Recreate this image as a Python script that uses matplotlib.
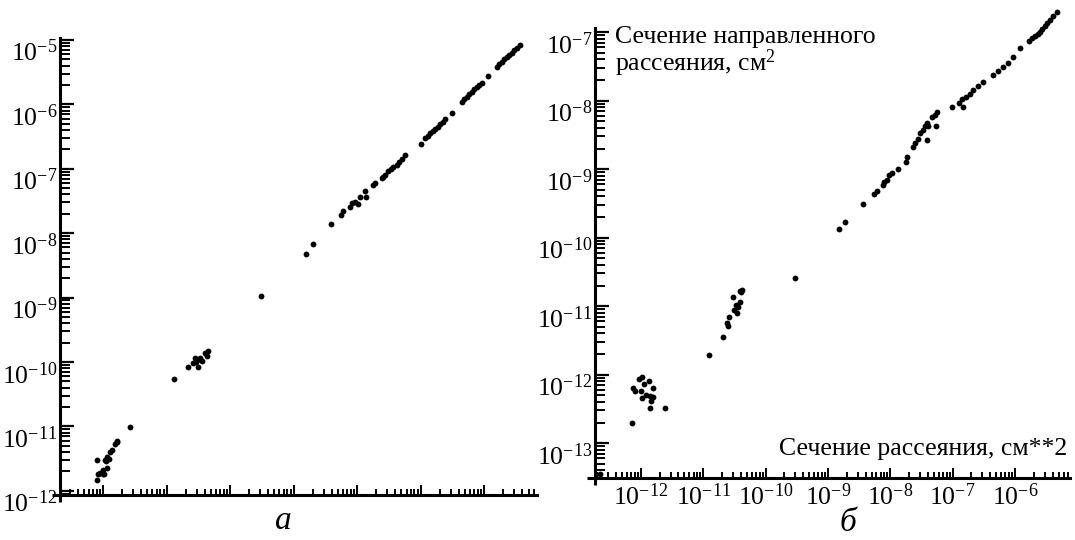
import numpy as np
import matplotlib
matplotlib.use("Agg")
import matplotlib.pyplot as plt
from matplotlib.ticker import LogLocator, FuncFormatter, NullFormatter

plt.rcParams['font.family'] = ['Liberation Serif', 'DejaVu Serif']
plt.rcParams['mathtext.fontset'] = 'custom'
plt.rcParams['mathtext.rm'] = 'Liberation Serif'
plt.rcParams['mathtext.it'] = 'Liberation Serif:italic'

# -------------------------
# data, panel "а"
# -------------------------
a_x = [7.96e-13, 8.44e-13, 8.97e-13, 1.0e-12, 1.05e-12, 1.01e-12, 1.14e-12, 7.96e-13,
       1.07e-12, 1.10e-12, 1.24e-12, 1.14e-12, 1.29e-12, 1.37e-12, 1.55e-12, 1.64e-12,
       1.68e-12, 2.7e-12,
       1.33e-11, 2.18e-11, 2.61e-11, 2.92e-11, 3.13e-11, 2.8e-11, 3.37e-11, 3.62e-11,
       4.04e-11, 4.34e-11, 4.5e-11, 3.0e-11,
       3.08e-10,
       1.57e-9, 2.0e-9, 3.85e-9, 5.5e-9, 6.1e-9, 7.8e-9, 8.2e-9, 9.3e-9, 1.05e-8, 1.11e-8,
       1.39e-8, 1.34e-8, 1.77e-8, 1.92e-8, 2.44e-8, 2.6e-8, 2.76e-8, 3.11e-8, 3.4e-8,
       3.73e-8, 4.22e-8, 4.6e-8, 5.06e-8, 5.7e-8,
       1.0e-7, 1.18e-7, 1.3e-7, 1.41e-7, 1.55e-7, 1.69e-7, 1.85e-7, 2.03e-7, 2.22e-7,
       2.43e-7, 3.1e-7, 4.45e-7, 4.85e-7, 5.33e-7, 5.85e-7, 6.4e-7, 7.0e-7, 7.67e-7,
       8.4e-7, 9.2e-7, 1.17e-6, 1.58e-6, 1.74e-6, 1.9e-6, 2.08e-6, 2.28e-6, 2.5e-6,
       2.73e-6, 3.0e-6, 3.27e-6, 3.69e-6]
a_y = [1.47e-12, 1.80e-12, 1.87e-12, 1.85e-12, 1.80e-12, 2.10e-12, 2.24e-12, 3.0e-12,
       3.0e-12, 2.9e-12, 3.08e-12, 3.39e-12, 3.96e-12, 4.3e-12, 5.33e-12, 5.66e-12,
       6.0e-12, 9.9e-12,
       5.45e-11, 8.4e-11, 9.6e-11, 1.0e-10, 8.4e-11, 1.15e-10, 1.15e-10, 1.03e-10,
       1.38e-10, 1.23e-10, 1.48e-10, 1.08e-10,
       1.06e-9,
       4.75e-9, 6.7e-9, 1.39e-8, 1.92e-8, 2.23e-8, 2.58e-8, 2.91e-8, 3.09e-8, 2.84e-8, 3.69e-8,
       3.6e-8, 4.57e-8, 5.6e-8, 6.1e-8, 7.1e-8, 7.5e-8, 8.0e-8, 9.35e-8, 1.0e-7,
       1.08e-7, 1.15e-7, 1.28e-7, 1.41e-7, 1.64e-7,
       2.43e-7, 2.97e-7, 3.25e-7, 3.56e-7, 3.85e-7, 4.15e-7, 4.5e-7, 4.9e-7, 5.4e-7,
       5.9e-7, 7.3e-7, 1.1e-6, 1.2e-6, 1.32e-6, 1.44e-6, 1.57e-6, 1.7e-6, 1.84e-6,
       2.0e-6, 2.17e-6, 2.8e-6, 3.85e-6, 4.2e-6, 4.6e-6, 5.0e-6, 5.4e-6, 5.85e-6,
       6.35e-6, 6.9e-6, 7.43e-6, 8.36e-6]

# -------------------------
# data, panel "б"
# -------------------------
b_x = [2.23e-13,
       7.2e-13, 7.36e-13, 8.0e-13, 9.4e-13, 1.06e-12, 1.13e-12, 1.34e-12, 1.0e-12,
       1.54e-12, 1.2e-12, 1.03e-12, 1.41e-12, 1.57e-12, 1.44e-12, 1.39e-12, 2.48e-12,
       1.22e-11, 2.07e-11, 2.44e-11, 2.5e-11, 2.59e-11, 3.0e-11, 3.11e-11, 3.31e-11,
       3.52e-11, 3.6e-11, 3.88e-11, 3.98e-11, 4.24e-11, 3.86e-11,
       2.94e-10,
       1.53e-9, 1.91e-9, 3.66e-9, 5.4e-9, 6.1e-9, 7.5e-9, 8.0e-9, 9.4e-9, 1.06e-8,
       8.85e-9, 1.31e-8, 1.8e-8, 1.85e-8, 2.31e-8, 2.51e-8, 2.74e-8, 3.02e-8, 3.86e-8,
       3.29e-8, 3.54e-8, 3.86e-8, 4.0e-8, 4.65e-8, 5.44e-8, 5.25e-8, 5.58e-8,
       9.7e-8, 1.24e-7, 1.46e-7, 1.4e-7, 1.64e-7, 1.9e-7, 2.15e-7, 2.59e-7, 3.11e-7,
       4.5e-7, 5.4e-7, 6.5e-7, 7.8e-7, 9.4e-7, 1.2e-6, 1.69e-6, 1.9e-6, 2.09e-6,
       2.3e-6, 2.51e-6, 2.75e-6, 3.02e-6, 3.3e-6, 3.63e-6, 4.1e-6, 4.65e-6]
b_y = [3.6e-14,
       1.98e-13, 6.4e-13, 5.8e-13, 8.6e-13, 9.1e-13, 7.4e-13, 8.1e-13, 5.8e-13,
       6.4e-13, 5.1e-13, 4.5e-13, 4.85e-13, 4.7e-13, 4.15e-13, 3.3e-13, 3.3e-13,
       1.95e-12, 3.56e-12, 5.6e-12, 5.2e-12, 6.98e-12, 1.34e-11, 8.7e-12, 1.03e-11,
       8.0e-12, 9.7e-12, 1.16e-11, 1.62e-11, 1.75e-11, 1.65e-11,
       2.62e-11,
       1.32e-10, 1.7e-10, 3.08e-10, 4.4e-10, 4.8e-10, 5.8e-10, 6.5e-10, 8.2e-10, 8.65e-10,
       6.9e-10, 1.02e-9, 1.28e-9, 1.51e-9, 2.12e-9, 2.37e-9, 2.8e-9, 3.32e-9, 2.65e-9,
       3.7e-9, 4.25e-9, 4.74e-9, 4.2e-9, 5.7e-9, 4.25e-9, 6.1e-9, 6.9e-9,
       7.95e-9, 9.1e-9, 8.1e-9, 1.04e-8, 1.14e-8, 1.27e-8, 1.42e-8, 1.63e-8, 1.88e-8,
       2.36e-8, 2.7e-8, 3.12e-8, 3.56e-8, 4.36e-8, 5.78e-8, 7.46e-8, 8.1e-8, 8.74e-8,
       9.4e-8, 1.0e-7, 1.1e-7, 1.22e-7, 1.35e-7, 1.5e-7, 1.72e-7, 1.98e-7]

a_yticks = [1e-12, 1e-11, 1e-10, 1e-9, 1e-8, 1e-7, 1e-6, 1e-5]
b_yticks = [1e-13, 1e-12, 1e-11, 1e-10, 1e-9, 1e-8, 1e-7]
b_xticks = [1e-12, 1e-11, 1e-10, 1e-9, 1e-8, 1e-7, 1e-6]

y_title = "Сечение направленного\nрассеяния, см$^2$"
x_title = "Сечение рассеяния, см**2"


def pow_label(v, pos):
    e = int(round(np.log10(v)))
    return r"$\mathregular{10^{%d}}$" % e


def style_axis(ax, xlim, ylim, yticks, xticks=None):
    ax.set_xscale('log')
    ax.set_yscale('log')
    ax.set_xlim(*xlim)
    ax.set_ylim(*ylim)
    for s in ('top', 'right'):
        ax.spines[s].set_visible(False)
    for s in ('left', 'bottom'):
        ax.spines[s].set_linewidth(2.2)
    ax.xaxis.set_major_locator(LogLocator(base=10, numticks=20))
    ax.xaxis.set_minor_locator(LogLocator(base=10, subs=np.arange(2, 10), numticks=40))
    ax.yaxis.set_major_locator(plt.FixedLocator(yticks))
    ax.yaxis.set_minor_locator(LogLocator(base=10, subs=np.arange(2, 10), numticks=40))
    ax.yaxis.set_major_formatter(FuncFormatter(pow_label))
    ax.yaxis.set_minor_formatter(NullFormatter())
    ax.xaxis.set_minor_formatter(NullFormatter())
    if xticks is None:
        ax.xaxis.set_major_formatter(NullFormatter())
    else:
        ax.xaxis.set_major_locator(plt.FixedLocator(xticks))
        ax.xaxis.set_major_formatter(FuncFormatter(pow_label))
    ax.tick_params(axis='y', which='major', direction='in', length=10, width=1.6,
                   labelsize=18.5, pad=2)
    ax.tick_params(axis='y', which='minor', direction='in', length=7, width=1.4)
    ax.tick_params(axis='x', which='major', direction='in', length=7, width=1.4,
                   labelsize=18.5, pad=4)
    ax.tick_params(axis='x', which='minor', direction='in', length=4.5, width=1.4)
    for lab in ax.get_yticklabels():
        lab.set_verticalalignment('top')
    # axes lines run a little past the corner
    ax.plot([-0.017, 0], [0, 0], transform=ax.transAxes, color='k', lw=2.2,
            clip_on=False, solid_capstyle='butt')
    ax.plot([0, 0], [-0.016, 0], transform=ax.transAxes, color='k', lw=2.2,
            clip_on=False, solid_capstyle='butt')


fig = plt.figure(figsize=(10.75, 5.4), dpi=100)

# panel а
ax1 = fig.add_axes([60 / 1075, 45 / 540, 477 / 1075, 457 / 540])
ax1.plot(a_x, a_y, 'o', color='k', ms=4.2, mec='none', clip_on=False)
style_axis(ax1, (2.1e-13, 6.8e-6), (8.6e-13, 1.07e-5), a_yticks)
fig.text(283 / 1075, 1 - 521 / 540, "а", fontsize=24, style='italic',
         ha='center', va='center')

# panel б
ax2 = fig.add_axes([595 / 1075, 62 / 540, 475 / 1075, 450 / 540])
ax2.plot(b_x, b_y, 'o', color='k', ms=4.2, mec='none', clip_on=False)
style_axis(ax2, (1.84e-13, 7.6e-6), (3.1e-14, 1.15e-7), b_yticks, b_xticks)
ax2.text(0.042, 1.005, y_title, transform=ax2.transAxes, fontsize=18.5,
         ha='left', va='top', linespacing=1.0)
ax2.text(0.995, 0.04, x_title, transform=ax2.transAxes, fontsize=18.5,
         ha='right', va='bottom')
fig.text(848 / 1075, 1 - 523 / 540, "б", fontsize=24, style='italic',
         ha='center', va='center')

fig.savefig("out.png", dpi=100)
